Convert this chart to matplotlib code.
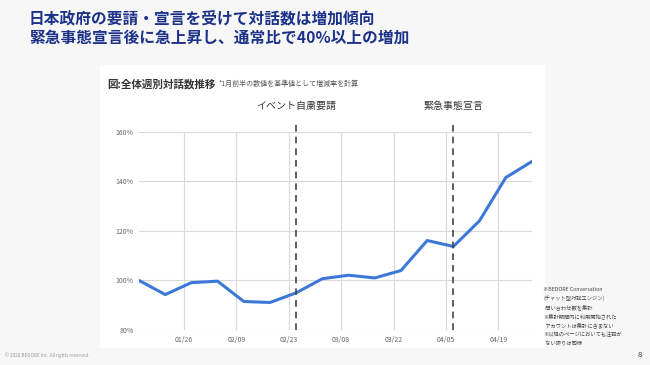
import numpy as np
import pandas as pd
import matplotlib
matplotlib.use("Agg")
import matplotlib.pyplot as plt
import matplotlib.dates as mdates
import matplotlib.transforms as mtransforms
from matplotlib.patches import Rectangle

plt.rcParams["font.family"] = ["Noto Sans CJK JP", "DejaVu Sans"]

# data -----------------------------------------------------------------------
weeks = pd.date_range("2020-01-14", periods=16, freq="7D")
ratio = [100.0, 94.3, 99.1, 99.7, 91.5, 91.1, 95.0, 100.7,
         102.1, 101.0, 104.0, 116.1, 113.7, 124.1, 141.5, 148.0]
tick_dates = pd.to_datetime(["2020-01-26", "2020-02-09", "2020-02-23", "2020-03-08",
                             "2020-03-22", "2020-04-05", "2020-04-19"])
y_ticks = [80, 100, 120, 140, 160]
event_dates = pd.to_datetime(["2020-02-25", "2020-04-07"])
event_labels = ["イベント自粛要請", "緊急事態宣言"]

title_lines = ["日本政府の要請・宣言を受けて対話数は増加傾向",
               "緊急事態宣言後に急上昇し、通常比で40%以上の増加"]
notes = ["※BEDORE Conversation",
         "(チャット型対話エンジン)",
         "  問い合わせ数を集計",
         "※集計期間内に利用開始された",
         "  アカウントは集計に含まない",
         "※以降のページにおいても注記が",
         "  ない限りは同様"]

# figure ---------------------------------------------------------------------
fig = plt.figure(figsize=(6.5, 3.65), dpi=100, facecolor="#f7f7f7")
bg = Rectangle((100 / 650, 1 - 348 / 365), 445 / 650, 283 / 365,
               transform=fig.transFigure, facecolor="white", edgecolor="none")
bg.set_zorder(-5)
fig.add_artist(bg)

ax = fig.add_axes([139 / 650, 1 - 330 / 365, 393 / 650, 198.3 / 365])
ax.set_zorder(1)
ax.set_facecolor("white")
ax.plot(weeks, ratio, color="#3c78d8", lw=2.2, solid_joinstyle="round", zorder=3)

ax.set_xlim(weeks[0], weeks[-1])
ax.set_ylim(80, 160)
ax.set_yticks(y_ticks)
ax.set_yticklabels([f"{v}%" for v in y_ticks])
ax.set_xticks(tick_dates)
ax.xaxis.set_major_formatter(mdates.DateFormatter("%m/%d"))
ax.tick_params(length=0, labelsize=5, colors="#666666", pad=4)
ax.grid(True, color="#d9d9d9", lw=0.8)
for s in ax.spines.values():
    s.set_visible(False)

# event markers
trans = mtransforms.blended_transform_factory(ax.transData, ax.transAxes)
for d, lab in zip(event_dates, event_labels):
    ax.plot([d, d], [0, 1.05], transform=trans, color="#444444", lw=1.2,
            ls=(0, (4, 3)), clip_on=False, zorder=4)
    ax.text(d, 1.13, lab, transform=trans, ha="center", va="center",
            fontsize=7.2, color="#333333")

# texts ----------------------------------------------------------------------
for i, line in enumerate(title_lines):
    fig.text(29 / 650, 1 - (18.5 + i * 19) / 365, line, ha="left", va="center",
             fontsize=11.3, fontweight="bold", color="#1c3289")

fig.text(107 / 650, 1 - 84 / 365, "図:全体週別対話数推移", ha="left", va="center",
         fontsize=7.6, fontweight="bold", color="#333333")
fig.text(219 / 650, 1 - 84 / 365, "*1月前半の数値を基準値として増減率を計算",
         ha="left", va="center", fontsize=5.0, color="#555555")

for i, line in enumerate(notes):
    fig.text(543 / 650, 1 - (291 + i * 9) / 365, line, ha="left", va="baseline",
             fontsize=3.8, color="#444444")

fig.text(640 / 650, 1 - 355 / 365, "8", ha="center", va="center",
         fontsize=5.5, color="#333333")
fig.text(5 / 650, 1 - 355 / 365, "© 2020 BEDORE Inc. All rights reserved.",
         ha="left", va="center", fontsize=3.4, color="#999999")

fig.savefig("out.png", dpi=100, facecolor=fig.get_facecolor())
